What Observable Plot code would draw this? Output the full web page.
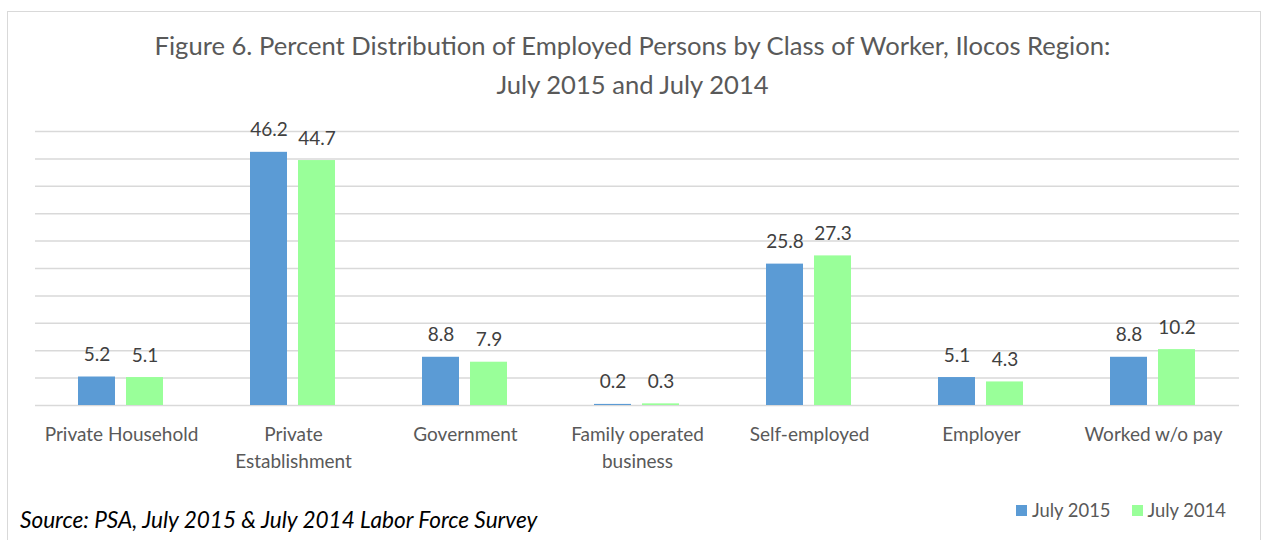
<!DOCTYPE html>
<html>
<head>
<meta charset="utf-8">
<script src="https://cdn.jsdelivr.net/npm/d3@7"></script>
<script src="https://cdn.jsdelivr.net/npm/@observablehq/plot@0.6"></script>
<style>
  html, body { margin: 0; padding: 0; background: #fff; }
  #wrap { position: relative; width: 1265px; height: 540px; overflow: hidden; font-family: Lato, sans-serif; }
  #frame { position: absolute; left: 7px; top: 11px; width: 1254px; height: 560px; border: 1.5px solid #d9d9d9; box-sizing: border-box; }
  #title { position: absolute; left: 0; width: 1265px; top: 26px; text-align: center; font-size: 25.6px; line-height: 39px; color: #595959; }
  #chart { position: absolute; left: 0; top: 0; }
  #source { position: absolute; left: 20px; top: 506px; font-size: 22.6px; font-style: italic; color: #000; }
  #legend { position: absolute; left: 1016px; top: 499px; font-size: 18.4px; color: #595959; display: flex; align-items: center; }
  #legend .sw { display: inline-block; width: 11px; height: 11px; margin-right: 5px; }
  #legend .item { display: flex; align-items: center; margin-right: 21px; }
</style>
</head>
<body>
<div id="wrap">
  <div id="frame"></div>
  <div id="chart"></div>
  <div id="title">Figure 6. Percent Distribution of Employed Persons by Class of Worker, Ilocos Region:<br>July 2015 and July 2014</div>
  <div id="legend"></div>
  <div id="source">Source: PSA, July 2015 &amp; July 2014 Labor Force Survey</div>
</div>
<script>
const categories = ["Private Household", "Private Establishment", "Government", "Family operated business", "Self-employed", "Employer", "Worked w/o pay"];
const tickLabels = ["Private Household", "Private\nEstablishment", "Government", "Family operated\nbusiness", "Self-employed", "Employer", "Worked w/o pay"];
const series = ["July 2015", "July 2014"];
const july2015 = [5.2, 46.2, 8.8, 0.2, 25.8, 5.1, 8.8];
const july2014 = [5.1, 44.7, 7.9, 0.3, 27.3, 4.3, 10.2];
const yTicks = [0, 5, 10, 15, 20, 25, 30, 35, 40, 45, 50];
const colors = ["#5b9bd5", "#99ff99"];

const data = [];
categories.forEach((c, i) => {
  data.push({cat: c, series: series[0], value: july2015[i]});
  data.push({cat: c, series: series[1], value: july2014[i]});
});

const chart = Plot.plot({
  width: 1265,
  height: 540,
  marginTop: 131,
  marginBottom: 135,
  marginLeft: 33,
  marginRight: 25,
  style: {fontFamily: "Lato, sans-serif", background: "transparent"},
  fx: {domain: categories, padding: 0, label: null},
  x: {domain: series, paddingInner: 0.22, paddingOuter: 0.88, axis: null},
  y: {domain: [0, 50], axis: null},
  color: {domain: series, range: colors},
  marks: [
    Plot.ruleY(yTicks, {stroke: "#d9d9d9", strokeWidth: 1.5}),
    Plot.barY(data, {fx: "cat", x: "series", y: "value", fill: "series"}),
    Plot.text(data, {fx: "cat", x: "series", y: "value", text: d => d.value.toFixed(1), dy: -22, fontSize: 19, fill: "#404040"}),
    Plot.axisFx({anchor: "bottom", tickSize: 0, tickPadding: 16, fontSize: 19, fill: "#595959", label: null, lineHeight: 1.42,
      tickFormat: c => tickLabels[categories.indexOf(c)]})
  ]
});
document.getElementById("chart").appendChild(chart);

const legend = document.getElementById("legend");
series.forEach((s, i) => {
  const item = document.createElement("span");
  item.className = "item";
  const sw = document.createElement("span");
  sw.className = "sw";
  sw.style.background = colors[i];
  item.appendChild(sw);
  item.appendChild(document.createTextNode(s));
  legend.appendChild(item);
});
</script>
</body>
</html>
